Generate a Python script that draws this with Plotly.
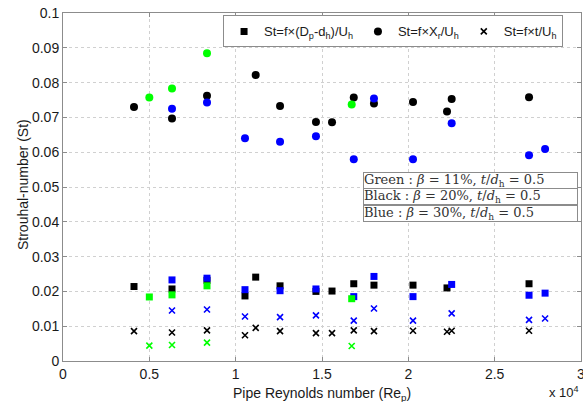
import plotly.graph_objects as go

# ---- data (Re_p, St) ----
green_re_circ = [5000, 6313, 8340, 16720]
green_st_circ = [0.0757, 0.0783, 0.0884, 0.0737]
green_re_sq = [5000, 6313, 8340, 16720]
green_st_sq = [0.0184, 0.0190, 0.0216, 0.0179]
green_re_x = [5000, 6313, 8340, 16720]
green_st_x = [0.0044, 0.0046, 0.0053, 0.0043]

black_re_circ = [4112, 6313, 8340, 11160, 12570, 14650, 15580, 16840, 18010, 20270, 22240, 22510, 26990]
black_st_circ = [0.0730, 0.0697, 0.0762, 0.0822, 0.0733, 0.0687, 0.0686, 0.0757, 0.0740, 0.0744, 0.0717, 0.0753, 0.0758]
black_re_sq = [4112, 6313, 8340, 10540, 11160, 12570, 14650, 15580, 16840, 18010, 20270, 22240, 26990]
black_st_sq = [0.0214, 0.0207, 0.0232, 0.0187, 0.0241, 0.0216, 0.0200, 0.0201, 0.0222, 0.0218, 0.0218, 0.0210, 0.0222]
black_re_x = [4112, 6313, 8340, 10540, 11160, 12570, 14650, 15580, 16840, 18010, 20270, 22240, 22510, 26990]
black_st_x = [0.0086, 0.0082, 0.0088, 0.0074, 0.0095, 0.0086, 0.0080, 0.0080, 0.0088, 0.0086, 0.0087, 0.0084, 0.0087, 0.0087]

blue_re = [6313, 8340, 10540, 12570, 14650, 16840, 18010, 20270, 22510, 26990, 27920]
blue_st_circ = [0.0725, 0.0743, 0.0640, 0.0630, 0.0646, 0.0580, 0.0754, 0.0580, 0.0683, 0.0591, 0.0609]
blue_st_sq = [0.0233, 0.0238, 0.0205, 0.0202, 0.0207, 0.0185, 0.0243, 0.0185, 0.0220, 0.0189, 0.0195]
blue_st_x = [0.0145, 0.0148, 0.0128, 0.0126, 0.0131, 0.0116, 0.0151, 0.0116, 0.0137, 0.0118, 0.0122]

x_ticks = [0, 5000, 10000, 15000, 20000, 25000, 30000]
x_tick_labels = ["0", "0.5", "1", "1.5", "2", "2.5", "3"]
y_ticks = [0, 0.01, 0.02, 0.03, 0.04, 0.05, 0.06, 0.07, 0.08, 0.09, 0.1]
y_tick_labels = ["0", "0.01", "0.02", "0.03", "0.04", "0.05", "0.06", "0.07", "0.08", "0.09", "0.1"]

legend_names = ["St=f×(D<sub>p</sub>-d<sub>h</sub>)/U<sub>h</sub>",
                "St=f×X<sub>r</sub>/U<sub>h</sub>",
                "St=f×t/U<sub>h</sub>"]
notes = ["Green : <i>β</i> = 11%, <i>t</i>/<i>d</i><sub>h</sub> = 0.5",
         "Black : <i>β</i> = 20%, <i>t</i>/<i>d</i><sub>h</sub> = 0.5",
         "Blue : <i>β</i> = 30%, <i>t</i>/<i>d</i><sub>h</sub> = 0.5"]
x_title = "Pipe Reynolds number (Re<sub>p</sub>)"
y_title = "Strouhal-number (St)"
x_scale_note = "x 10<sup>4</sup>"

BLACK = "#000000"
BLUE = "#0000ff"
GREEN = "#00ff00"
SANS = "Liberation Sans, Arial"
TXT = "#1a1a1a"

fig = go.Figure()

def add(xs, ys, color, kind, name=None, show=False):
    if kind == "sq":
        marker = dict(symbol="square", size=7, color=color, line=dict(width=0))
    elif kind == "circ":
        marker = dict(symbol="circle", size=8, color=color, line=dict(width=0))
    else:
        marker = dict(symbol="x-thin", size=6, color=color, line=dict(width=1.6, color=color))
    fig.add_trace(go.Scatter(x=xs, y=ys, mode="markers", marker=marker,
                             name=name, showlegend=show))

# black (legend carriers)
add(black_re_sq, black_st_sq, BLACK, "sq", legend_names[0], True)
add(black_re_circ, black_st_circ, BLACK, "circ", legend_names[1], True)
add(black_re_x, black_st_x, BLACK, "x", legend_names[2], True)
# blue
add(blue_re, blue_st_sq, BLUE, "sq")
add(blue_re, blue_st_circ, BLUE, "circ")
add(blue_re, blue_st_x, BLUE, "x")
# green
add(green_re_sq, green_st_sq, GREEN, "sq")
add(green_re_circ, green_st_circ, GREEN, "circ")
add(green_re_x, green_st_x, GREEN, "x")

axis_common = dict(showline=True, linecolor="#8c8c8c", linewidth=1, mirror="ticks",
                   ticks="inside", ticklen=4, tickcolor="#8c8c8c",
                   showgrid=True, gridcolor="#d0d0d0", griddash="dot", gridwidth=1,
                   zeroline=False, automargin=False, ticklabeloverflow="allow",
                   tickfont=dict(family=SANS, size=14, color=TXT))

fig.update_xaxes(range=[0, 30000], tickvals=x_ticks, ticktext=x_tick_labels, **axis_common)
fig.update_yaxes(range=[0, 0.1], tickvals=y_ticks, ticktext=y_tick_labels, **axis_common)

fig.update_layout(
    width=583, height=402,
    margin=dict(l=63, r=2, t=13, b=41),
    plot_bgcolor="white", paper_bgcolor="white",
    legend=dict(orientation="h", x=0.309, xanchor="left", y=0.993, yanchor="top",
                bgcolor="white", bordercolor="#8c8c8c", borderwidth=1,
                font=dict(family=SANS, size=13, color=TXT),
                itemwidth=30, tracegroupgap=0),
)

for i, t in enumerate(notes):
    fig.add_annotation(xref="paper", yref="paper", x=0.579, y=0.544 - i * 0.048,
                       xanchor="left", yanchor="top", text=t, showarrow=False,
                       align="left", width=213, height=15, borderpad=0,
                       bgcolor="white", bordercolor="#8c8c8c", borderwidth=1,
                       font=dict(family="DejaVu Serif, serif", size=13, color="#333333"))

fig.add_annotation(xref="paper", yref="paper", x=0.5, y=-0.062, xanchor="center", yanchor="top",
                   text=x_title, showarrow=False, font=dict(family=SANS, size=14, color=TXT))
fig.add_annotation(xref="paper", yref="paper", x=-0.077, y=0.506, xanchor="center", yanchor="middle",
                   text=y_title, textangle=-90, showarrow=False, font=dict(family=SANS, size=14, color=TXT))
fig.add_annotation(xref="paper", yref="paper", x=0.967, y=-0.118, xanchor="center", yanchor="bottom",
                   text=x_scale_note, showarrow=False, font=dict(family=SANS, size=13, color=TXT))

fig.write_html("out.html", config={"displayModeBar": False},
               post_script="document.body.style.margin='0';document.body.style.padding='0';document.body.style.overflow='hidden';")
